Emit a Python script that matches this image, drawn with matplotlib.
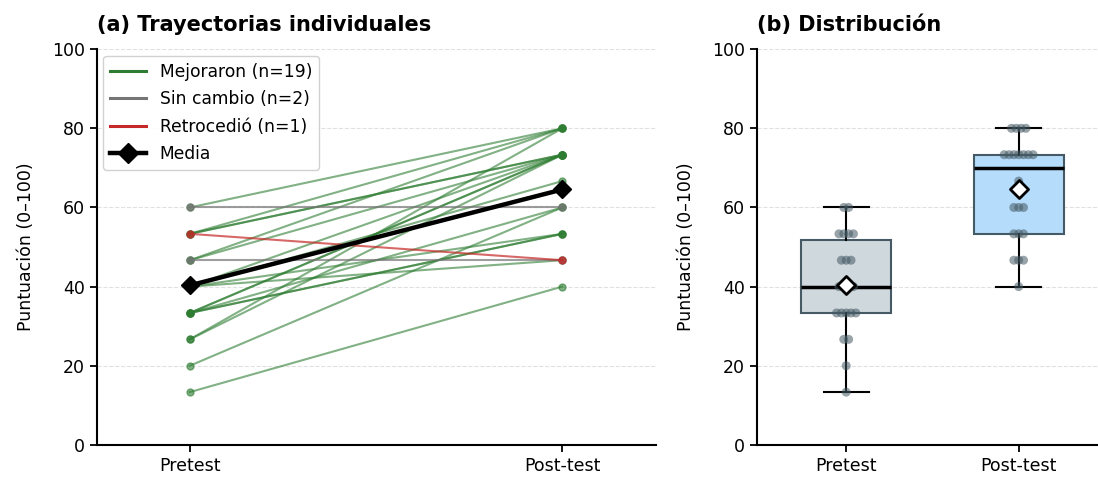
import numpy as np
import matplotlib.pyplot as plt

# puntuaciones (0-100) por estudiante, pretest y post-test
s = 100 / 15
pre_mejora = np.array([60, 53.3, 53.3, 53.3, 46.7, 46.7, 40, 40, 40, 40,
                       33.3, 33.3, 33.3, 33.3, 33.3, 26.7, 26.7, 20, 13.3])
post_mejora = np.array([80, 80, 73.3, 73.3, 73.3, 80, 73.3, 66.7, 53.3, 46.7,
                        73.3, 60, 53.3, 53.3, 73.3, 80, 73.3, 60, 40])
pre_igual = np.array([60, 46.7])
post_igual = np.array([60, 46.7])
pre_baja = np.array([53.3])
post_baja = np.array([46.7])

groups = ["Pretest", "Post-test"]
pre_all = np.round(np.concatenate([pre_mejora, pre_igual, pre_baja]) / s) * s
post_all = np.round(np.concatenate([post_mejora, post_igual, post_baja]) / s) * s

GREEN = "#2e7d32"
GRAY = "#757575"
RED = "#c62828"

fig = plt.figure(figsize=(10.98, 4.82), dpi=100)
ax1 = fig.add_axes([0.088, 0.077, 0.509, 0.821])
ax2 = fig.add_axes([0.689, 0.077, 0.311, 0.821])

# ==== (a) trayectorias ====
def draw(pre, post, color, alpha):
    for a, b in zip(pre, post):
        a = round(a / s) * s
        b = round(b / s) * s
        ax1.plot([0, 1], [a, b], color=color, alpha=alpha, lw=1.5,
                 marker="o", markersize=5, zorder=2)

draw(pre_mejora, post_mejora, GREEN, 0.6)
draw(pre_igual, post_igual, GRAY, 0.7)
draw(pre_baja, post_baja, RED, 0.7)

ax1.plot([0, 1], [pre_all.mean(), post_all.mean()], color="black", lw=3.2,
         marker="D", markersize=9.5, zorder=5)

handles = [
    plt.Line2D([], [], color=GREEN, lw=2.2),
    plt.Line2D([], [], color=GRAY, lw=2.2),
    plt.Line2D([], [], color=RED, lw=2.2),
    plt.Line2D([], [], color="black", lw=3.2, marker="D", markersize=10),
]
labels = [f"Mejoraron (n={len(pre_mejora)})", f"Sin cambio (n={len(pre_igual)})",
          f"Retrocedió (n={len(pre_baja)})", "Media"]
ax1.legend(handles, labels, loc="upper left", fontsize=12.3, framealpha=0.9,
           borderaxespad=0.4, labelspacing=0.55, handlelength=2.1)

ax1.set_xlim(-0.25, 1.25)
ax1.set_xticks([0, 1])
ax1.set_xticklabels(groups)
ax1.set_title("(a) Trayectorias individuales", loc="left", fontsize=15,
              fontweight="bold", pad=13)

# ==== (b) distribución ====
bp = ax2.boxplot([pre_all, post_all], positions=[1, 2], widths=0.52,
                 patch_artist=True, showfliers=False,
                 medianprops=dict(color="black", lw=2.5),
                 whiskerprops=dict(color="black", lw=1.5),
                 capprops=dict(color="black", lw=1.5))
for box, fc in zip(bp["boxes"], ["#cfd8dc", "#b6dcfb"]):
    box.set_facecolor(fc)
    box.set_edgecolor("#455a64")
    box.set_linewidth(1.5)
    box.set_zorder(1)

for i, vals in enumerate([pre_all, post_all]):
    # desplazamiento horizontal fijo entre puntos repetidos
    uniq = np.unique(vals)
    for v in uniq:
        n = np.sum(np.isclose(vals, v))
        offs = (np.arange(n) - (n - 1) / 2) * 0.028
        ax2.scatter(i + 1 + offs, np.full(n, v), s=42, color="#455a64",
                    alpha=0.55, edgecolors="none", zorder=3)
    ax2.scatter(i + 1, vals.mean(), marker="D", s=85, facecolor="white",
                edgecolor="black", linewidth=2, zorder=6)

ax2.set_xlim(0.48, 2.46)
ax2.set_xticks([1, 2])
ax2.set_xticklabels(groups)
ax2.set_title("(b) Distribución", loc="left", fontsize=15, fontweight="bold",
              pad=13)

for ax in (ax1, ax2):
    ax.set_ylim(0, 100)
    ax.set_yticks(np.arange(0, 101, 20))
    ax.set_ylabel("Puntuación (0–100)", fontsize=12.5, labelpad=12)
    ax.tick_params(labelsize=12.5, width=1.3, length=5)
    ax.grid(axis="y", ls="--", color="#cccccc", alpha=0.6, lw=0.8)
    ax.set_axisbelow(True)
    ax.spines["top"].set_visible(False)
    ax.spines["right"].set_visible(False)
    ax.spines["left"].set_linewidth(1.5)
    ax.spines["bottom"].set_linewidth(1.5)

fig.savefig("out.png", dpi=100)
